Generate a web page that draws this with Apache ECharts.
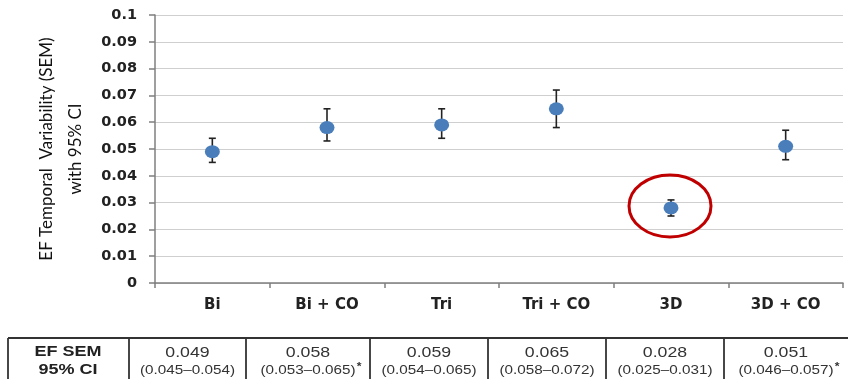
<!DOCTYPE html>
<html><head><meta charset="utf-8">
<script src="https://cdn.jsdelivr.net/npm/echarts@6/dist/echarts.min.js"></script>
<style>html,body{margin:0;padding:0;background:#fff}#c{width:848px;height:379px}</style>
</head><body><div id="c"></div>
<script>
const categories = ['Bi', 'Bi + CO', 'Tri', 'Tri + CO', '3D', '3D + CO'];
const semValues = [0.049, 0.058, 0.059, 0.065, 0.028, 0.051];
const ciLower = [0.045, 0.053, 0.054, 0.058, 0.025, 0.046];
const ciUpper = [0.054, 0.065, 0.065, 0.072, 0.031, 0.057];
const significant = [false, true, false, false, false, true];
const highlighted = ['3D'];
const yTicks = [0, 0.01, 0.02, 0.03, 0.04, 0.05, 0.06, 0.07, 0.08, 0.09, 0.1];

const chart = echarts.init(document.getElementById('c'), null, {renderer: 'canvas'});

const errData = categories.map((c, i) => [i, ciLower[i], ciUpper[i]]);
const hlData = highlighted.map(c => { const i = categories.indexOf(c); return [i, semValues[i]]; });

// table graphic
const tableCols = [129, 246, 370, 488, 606, 724, 848];
const tableLeft = 8, tableTop = 338;
const graphics = [];
const lineStyle = {stroke: '#333', lineWidth: 1.8};
graphics.push({type: 'line', shape: {x1: tableLeft, y1: tableTop, x2: 848, y2: tableTop}, style: lineStyle, silent: true});
graphics.push({type: 'line', shape: {x1: tableLeft, y1: tableTop, x2: tableLeft, y2: 379}, style: lineStyle, silent: true});
tableCols.slice(0, 6).forEach(x => graphics.push({type: 'line', shape: {x1: x, y1: tableTop, x2: x, y2: 379}, style: lineStyle, silent: true}));
graphics.push({type: 'text', x: 68, y: 352, scaleX: 1.2, style: {x: 0, y: 0, text: 'EF SEM', textAlign: 'center', textVerticalAlign: 'middle', font: 'bold 15px "Liberation Sans"', fill: '#222'}});
graphics.push({type: 'text', x: 68, y: 370, scaleX: 1.2, style: {x: 0, y: 0, text: '95% CI', textAlign: 'center', textVerticalAlign: 'middle', font: 'bold 15px "Liberation Sans"', fill: '#222'}});
categories.forEach((c, i) => {
  const cx = (tableCols[i] + tableCols[i + 1]) / 2;
  graphics.push({type: 'text', x: cx, y: 353, scaleX: 1.18, style: {x: 0, y: 0, text: semValues[i].toFixed(3), textAlign: 'center', textVerticalAlign: 'middle', font: '15px "Liberation Sans"', fill: '#333'}});
  graphics.push({type: 'text', x: cx + (significant[i] ? 3 : 0), y: 371, scaleX: 1.22, style: {x: 0, y: 0, text: '(' + ciLower[i].toFixed(3) + '\u2013' + ciUpper[i].toFixed(3) + ')' + (significant[i] ? '{s|*}' : ''),
    rich: {s: {fontSize: 10, fontFamily: 'Liberation Sans', fontWeight: 'bold', verticalAlign: 'top', padding: [0, 0, 8, 1], fill: '#333'}},
    textAlign: 'center', textVerticalAlign: 'middle', font: '12.5px "Liberation Sans"', fill: '#333'}});
});

chart.setOption({
  animation: false,
  grid: {left: 155, right: 5, top: 15, bottom: 96},
  xAxis: {
    type: 'category', data: categories, boundaryGap: true,
    axisLine: {lineStyle: {color: '#7f7f7f', width: 1.5}},
    axisTick: {show: true, length: 5, alignWithLabel: false, lineStyle: {color: '#7f7f7f', width: 1.5}},
    axisLabel: {margin: 15, fontFamily: 'DejaVu Sans', fontWeight: 'bold', fontSize: 15, color: '#222'},
    splitLine: {show: false}
  },
  yAxis: {
    type: 'value', min: 0, max: 0.1, interval: 0.01,
    name: 'EF Temporal  Variability (SEM)\nwith 95% CI', nameLocation: 'middle', nameGap: 58, nameRotate: 90,
    nameTextStyle: {fontFamily: 'Lato', fontSize: 17, color: '#111', lineHeight: 29, align: 'center'},
    axisLine: {show: true, lineStyle: {color: '#7f7f7f', width: 1.5}},
    axisTick: {show: true, inside: false, length: 6, lineStyle: {color: '#7f7f7f', width: 1.5}},
    axisLabel: {margin: 18, fontFamily: 'DejaVu Sans', fontWeight: 'bold', fontSize: 14.5, color: '#222',
      formatter: v => { const t = yTicks.find(x => Math.abs(x - v) < 1e-9); return t === undefined ? '' : String(+t.toFixed(2)); }},
    splitLine: {show: true, lineStyle: {color: '#cfcfcf', width: 1.2}}
  },
  series: [
    {
      type: 'custom', name: 'CI', data: errData, z: 3,
      renderItem: (params, api) => {
        const lo = api.coord([api.value(0), api.value(1)]);
        const hi = api.coord([api.value(0), api.value(2)]);
        const w = 3.5;
        const st = {stroke: '#222', lineWidth: 1.6};
        return {type: 'group', children: [
          {type: 'line', shape: {x1: lo[0], y1: lo[1], x2: hi[0], y2: hi[1]}, style: st},
          {type: 'line', shape: {x1: lo[0] - w, y1: lo[1], x2: lo[0] + w, y2: lo[1]}, style: st},
          {type: 'line', shape: {x1: hi[0] - w, y1: hi[1], x2: hi[0] + w, y2: hi[1]}, style: st}
        ]};
      }
    },
    {
      type: 'scatter', name: 'SEM', data: semValues, z: 4,
      symbol: 'circle', symbolSize: [15, 13],
      itemStyle: {color: '#4A7EBB', opacity: 1}
    },
    {
      type: 'custom', name: 'highlight', data: hlData, z: 5,
      renderItem: (params, api) => {
        const p = api.coord([api.value(0), api.value(1)]);
        return {type: 'ellipse', shape: {cx: p[0] - 1, cy: p[1] - 2, rx: 41, ry: 31}, style: {fill: 'none', stroke: '#C00000', lineWidth: 3}};
      }
    }
  ],
  graphic: graphics
});
</script></body></html>
